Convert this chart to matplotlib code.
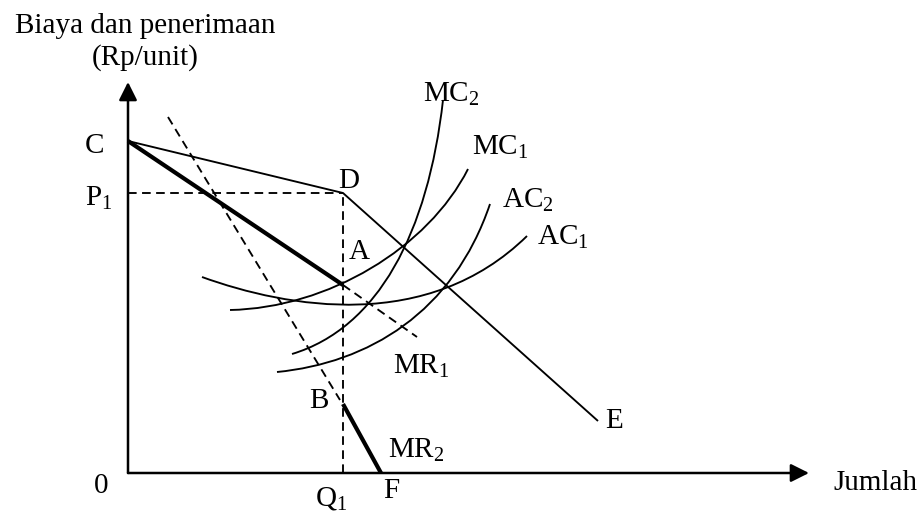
import matplotlib
matplotlib.use("Agg")
import matplotlib.pyplot as plt
from matplotlib.path import Path
from matplotlib.patches import PathPatch

plt.rcParams['font.family'] = ['Liberation Serif', 'DejaVu Serif']
plt.rcParams['mathtext.fontset'] = 'custom'
plt.rcParams['mathtext.rm'] = 'Liberation Serif'
plt.rcParams['mathtext.it'] = 'Liberation Serif'

# ---- data (diagram units) ----
point_C = (0, 332)
point_D = (215, 280)
point_E = (470, 52)
point_A = (215, 188)
mr1_dash_end = (289, 136)
mr_steep_start = (40, 356)
mr_steep_end = (212, 73)
mr2_start = (215, 69)
point_F = (253, 0)
P1 = 280
Q1 = 215
y_axis_top = 391
x_axis_end = 681

# cost curves: cubic Bezier control points (start, ctrl1, ctrl2, end)
AC1 = [(74, 196), (160, 165), (300, 140), (399, 237)]
MC1 = [(102, 163), (200, 165), (300, 225), (340, 304)]
MC2 = [(164, 119), (250, 145), (300, 240), (315, 373)]
AC2 = [(149, 101), (240, 110), (325, 160), (362, 269)]

# ---- figure ----
fig = plt.figure(figsize=(9.24, 5.13), dpi=100)
ax = fig.add_axes([0, 0, 1, 1])
ax.set_xlim(-128, 796)
ax.set_ylim(-40, 473)
ax.axis('off')

lw_thin = 1.35
lw_thick = 3.0
dash = (0, (4.6, 2.9))

# axes with arrows
arrow_kw = dict(arrowstyle='-|>,head_length=1.1,head_width=0.55', lw=1.8,
                color='black', shrinkA=0, shrinkB=0, mutation_scale=10)
ax.annotate('', xy=(0, y_axis_top), xytext=(0, 0), arrowprops=arrow_kw)
ax.annotate('', xy=(x_axis_end, 0), xytext=(0, 0), arrowprops=arrow_kw)

# demand C-D-E
ax.plot([point_C[0], point_D[0], point_E[0]], [point_C[1], point_D[1], point_E[1]],
        color='black', lw=lw_thin, solid_capstyle='butt')
# dashed guides
ax.plot([0, point_D[0]], [P1, P1], color='black', lw=lw_thin, ls=dash)
ax.plot([Q1, Q1], [0, P1], color='black', lw=lw_thin, ls=dash)
# MR1 thick then dashed
ax.plot([point_C[0], point_A[0]], [point_C[1], point_A[1]], color='black', lw=lw_thick,
        solid_capstyle='butt')
ax.plot([point_A[0], mr1_dash_end[0]], [point_A[1], mr1_dash_end[1]], color='black',
        lw=lw_thin, ls=dash)
# steep MR dashed
ax.plot([mr_steep_start[0], mr_steep_end[0]], [mr_steep_start[1], mr_steep_end[1]],
        color='black', lw=lw_thin, ls=dash)
# MR2 thick
ax.plot([mr2_start[0], point_F[0]], [mr2_start[1], point_F[1]], color='black',
        lw=lw_thick, solid_capstyle='butt')

codes = [Path.MOVETO, Path.CURVE4, Path.CURVE4, Path.CURVE4]
for pts in (AC1, MC1, MC2, AC2):
    ax.add_patch(PathPatch(Path(pts, codes), facecolor='none', edgecolor='black', lw=lw_thin))

fs = 21
def px(x, y):
    return (x - 128, 473 - y)

def label(s, x, y, ha='left'):
    ax.text(*px(x, y), s, fontsize=fs, ha=ha, va='baseline', color='black')

label('Biaya dan penerimaan', 15, 33)
label('(Rp/unit)', 92, 65)
label('C', 95, 153, ha='center')
label(r'$\mathrm{P}_1$', 85, 206)
label('0', 101, 493, ha='center')
label('D', 338, 188)
label('A', 349, 259)
label('B', 309, 408)
label(r'$\mathrm{Q}_1$', 315, 506)
label('F', 383, 498)
label(r'$\mathrm{MR}_2$', 388, 458)
label(r'$\mathrm{MR}_1$', 393, 374)
label('E', 605, 428)
label('Jumlah', 833, 490)
label(r'$\mathrm{MC}_2$', 423, 102)
label(r'$\mathrm{MC}_1$', 472, 155)
label(r'$\mathrm{AC}_2$', 502, 208)
label(r'$\mathrm{AC}_1$', 537, 245)

fig.savefig('out.png', dpi=100, facecolor='white')
